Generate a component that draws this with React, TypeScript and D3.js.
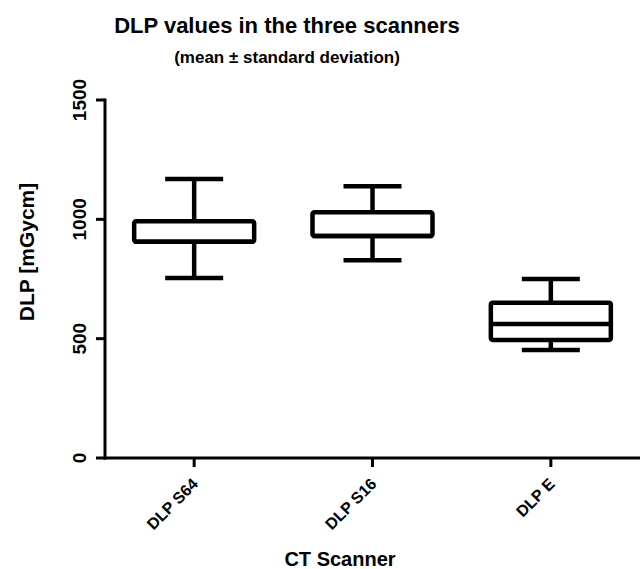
import { useEffect, useRef } from 'react';
import * as d3 from 'd3';

const categories = ['DLP S64', 'DLP S16', 'DLP E'];
const whiskerLow = [754, 829, 452];
const boxLow = [906, 930, 494];
const medians = [906, 930, 561];
const boxHigh = [992, 1030, 651];
const whiskerHigh = [1169, 1139, 750];
const yTicks = [0, 500, 1000, 1500];

const App = () => {
  const svgRef = useRef<SVGSVGElement>(null);

  useEffect(() => {
    if (!svgRef.current) return;
    const svg = d3.select(svgRef.current);
    svg.selectAll('*').remove();

    const font = '"Liberation Sans", Arial, sans-serif';
    const left = 105, right = 640, top = 100, bottom = 458;

    const x = d3.scaleBand().domain(categories).range([left, right]);
    const y = d3.scaleLinear().domain([0, 1500]).range([bottom, top]);
    const bw = 120, cap = 58;

    svg.append('text')
      .attr('x', 287).attr('y', 33)
      .attr('text-anchor', 'middle')
      .style('font-family', font).style('font-weight', 'bold').style('font-size', '22px')
      .text('DLP values in the three scanners');
    svg.append('text')
      .attr('x', 287).attr('y', 63)
      .attr('text-anchor', 'middle')
      .style('font-family', font).style('font-weight', 'bold').style('font-size', '17px')
      .text('(mean ± standard deviation)');

    // axes
    const g = svg.append('g');
    g.append('line').attr('x1', left).attr('x2', left).attr('y1', top - 1.5).attr('y2', bottom + 1.5)
      .attr('stroke', '#000').attr('stroke-width', 3);
    g.append('line').attr('x1', left - 1.5).attr('x2', right).attr('y1', bottom).attr('y2', bottom)
      .attr('stroke', '#000').attr('stroke-width', 3);

    yTicks.forEach(t => {
      g.append('line').attr('x1', left - 9).attr('x2', left).attr('y1', y(t)).attr('y2', y(t))
        .attr('stroke', '#000').attr('stroke-width', 3);
      g.append('text')
        .attr('transform', `translate(86,${y(t)}) rotate(-90)`)
        .attr('text-anchor', 'middle')
        .style('font-family', font).style('font-weight', 'bold').style('font-size', '19px')
        .text(t);
    });

    categories.forEach(c => {
      const cx = x(c)! + x.bandwidth() / 2;
      g.append('line').attr('x1', cx).attr('x2', cx).attr('y1', bottom).attr('y2', bottom + 9)
        .attr('stroke', '#000').attr('stroke-width', 3);
      g.append('text')
        .attr('transform', `translate(${cx + 5},${bottom + 27}) rotate(-45)`)
        .attr('text-anchor', 'end')
        .style('font-family', font).style('font-weight', 'bold').style('font-size', '16px')
        .text(c);
    });

    svg.append('text')
      .attr('transform', `translate(34,252) rotate(-90)`)
      .attr('text-anchor', 'middle')
      .style('font-family', font).style('font-weight', 'bold').style('font-size', '21px')
      .text('DLP [mGycm]');
    svg.append('text')
      .attr('x', 340).attr('y', 566)
      .attr('text-anchor', 'middle')
      .style('font-family', font).style('font-weight', 'bold').style('font-size', '20px')
      .text('CT Scanner');

    // boxes
    const boxes = svg.append('g');
    categories.forEach((c, i) => {
      const cx = x(c)! + x.bandwidth() / 2;
      const sw = 4.5;
      boxes.append('line').attr('x1', cx).attr('x2', cx)
        .attr('y1', y(whiskerHigh[i])).attr('y2', y(boxHigh[i]))
        .attr('stroke', '#000').attr('stroke-width', sw);
      boxes.append('line').attr('x1', cx).attr('x2', cx)
        .attr('y1', y(boxLow[i])).attr('y2', y(whiskerLow[i]))
        .attr('stroke', '#000').attr('stroke-width', sw);
      [whiskerHigh[i], whiskerLow[i]].forEach(v => {
        boxes.append('line').attr('x1', cx - cap / 2).attr('x2', cx + cap / 2)
          .attr('y1', y(v)).attr('y2', y(v))
          .attr('stroke', '#000').attr('stroke-width', sw);
      });
      boxes.append('rect')
        .attr('x', cx - bw / 2).attr('width', bw)
        .attr('y', y(boxHigh[i])).attr('height', y(boxLow[i]) - y(boxHigh[i]))
        .attr('rx', 2)
        .attr('fill', '#fff').attr('stroke', '#000').attr('stroke-width', sw);
      boxes.append('line').attr('x1', cx - bw / 2).attr('x2', cx + bw / 2)
        .attr('y1', y(medians[i])).attr('y2', y(medians[i]))
        .attr('stroke', '#000').attr('stroke-width', sw);
    });
  }, []);

  return (
    <svg ref={svgRef} width={643} height={569} style={{ display: 'block', position: 'absolute', left: 0, top: 0 }} />
  );
};

export default App;
